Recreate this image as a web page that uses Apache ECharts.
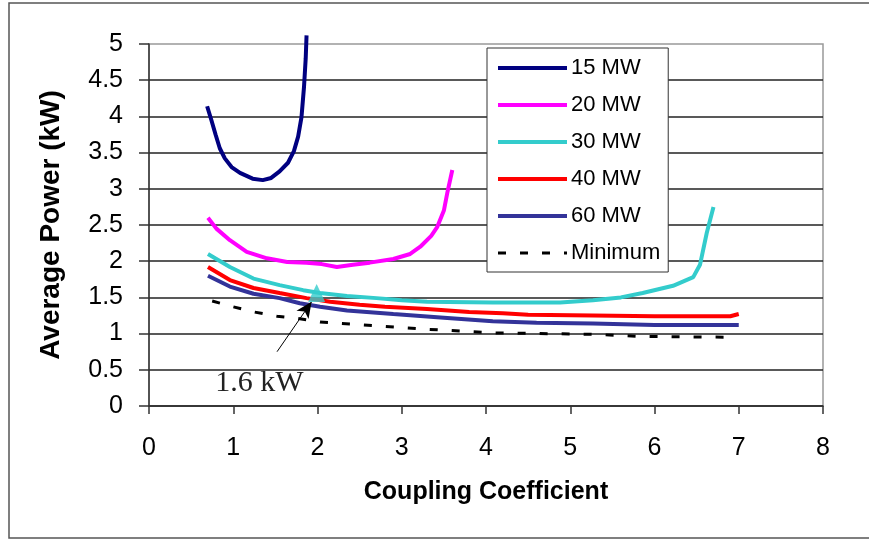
<!DOCTYPE html>
<html>
<head>
<meta charset="utf-8">
<script src="https://cdn.jsdelivr.net/npm/echarts@6/dist/echarts.min.js"></script>
<style>
  html, body { margin: 0; padding: 0; background: #fff; }
  #chart { width: 869px; height: 540px; }
</style>
</head>
<body>
<div id="chart"></div>
<script>
// [coupling coefficient, average power kW]
const mw15 = [[0.69, 4.14], [0.74, 3.95], [0.79, 3.75], [0.84, 3.56], [0.9, 3.42], [0.98, 3.3], [1.08, 3.22], [1.23, 3.14], [1.35, 3.12],
  [1.45, 3.15], [1.55, 3.24], [1.65, 3.36], [1.72, 3.52], [1.77, 3.72], [1.81, 3.99], [1.84, 4.41], [1.86, 4.8], [1.87, 5.12]];
const mw20 = [[0.7, 2.6], [0.8, 2.45], [0.96, 2.29], [1.16, 2.13], [1.4, 2.04], [1.64, 1.99], [1.87, 1.98], [2.05, 1.96],
  [2.23, 1.92], [2.42, 1.95], [2.62, 1.98], [2.9, 2.03], [3.1, 2.1], [3.22, 2.2], [3.35, 2.35], [3.42, 2.47],
  [3.5, 2.7], [3.54, 2.94], [3.6, 3.26]];
const mw30 = [[0.7, 2.1], [0.96, 1.92], [1.24, 1.76], [1.55, 1.67], [1.83, 1.6], [2.03, 1.56], [2.35, 1.52], [2.7, 1.49],
  [3.0, 1.46], [3.3, 1.44], [4.08, 1.43], [4.88, 1.43], [5.27, 1.46], [5.6, 1.5], [5.86, 1.56], [6.22, 1.66],
  [6.46, 1.78], [6.54, 1.95], [6.62, 2.39], [6.7, 2.75]];
const mw40 = [[0.7, 1.92], [0.96, 1.74], [1.24, 1.63], [1.55, 1.56], [1.87, 1.49], [2.15, 1.44], [2.5, 1.4], [2.8, 1.37],
  [3.3, 1.34], [3.8, 1.3], [4.2, 1.28], [4.5, 1.26], [5.27, 1.25], [6.0, 1.24], [6.9, 1.24], [7.0, 1.27]];
const mw60 = [[0.7, 1.8], [0.96, 1.65], [1.24, 1.55], [1.55, 1.49], [1.79, 1.42], [2.03, 1.37], [2.35, 1.32], [2.9, 1.27],
  [3.5, 1.22], [4.08, 1.17], [4.6, 1.15], [5.27, 1.14], [6.0, 1.12], [7.0, 1.12]];
const minimum = [[0.75, 1.45], [1.0, 1.37], [1.24, 1.3], [1.52, 1.24], [1.76, 1.21], [2.03, 1.16], [2.54, 1.12],
  [3.3, 1.06], [4.08, 1.01], [5.27, 0.99], [5.86, 0.96], [6.93, 0.95]];

const seriesNames = ['15 MW', '20 MW', '30 MW', '40 MW', '60 MW', 'Minimum'];
const seriesColors = ['#000080', '#ff00ff', '#33cccc', '#ff0000', '#333399', '#000000'];

// highlighted point and its callout
const optPoint = [[1.99, 1.56]];
const arrowFrom = [1.52, 0.75];
const arrowTo = [1.93, 1.44];
const calloutAt = [1.31, 0.32];
const calloutText = '1.6 kW';

const chart = echarts.init(document.getElementById('chart'));

const lineSeries = [mw15, mw20, mw30, mw40, mw60, minimum].map((d, i) => ({
  name: seriesNames[i],
  type: 'line',
  data: d,
  symbol: 'none',
  clip: false,
  color: seriesColors[i],
  lineStyle: i === 5
    ? { color: '#000', width: 3, type: [8, 14] }
    : { color: seriesColors[i], width: 4 },
  z: 3,
}));

const option = {
  backgroundColor: '#fff',
  animation: false,
  textStyle: { fontFamily: 'Liberation Sans, Arial, sans-serif' },
  grid: {
    left: 149, right: 46, top: 44, bottom: 134,
    show: true, borderColor: '#999', borderWidth: 1.5,
  },
  graphic: [{
    type: 'rect',
    shape: { x: 9, y: 3, width: 870, height: 535 },
    style: { fill: 'none', stroke: '#555', lineWidth: 1.5 },
    silent: true,
  }],
  legend: {
    data: seriesNames,
    orient: 'vertical',
    left: 487,
    top: 48,
    padding: [9, 8, 8, 9],
    itemWidth: 69,
    itemHeight: 14,
    itemGap: 15,
    backgroundColor: '#fff',
    borderColor: '#333',
    borderWidth: 1,
    itemStyle: { opacity: 0 },
    lineStyle: { width: 'inherit' },
    textStyle: { fontSize: 22, color: '#000', padding: [0, 0, 0, -1] },
  },
  xAxis: {
    type: 'value',
    min: 0, max: 8, interval: 1,
    name: 'Coupling Coefficient',
    nameLocation: 'middle',
    nameGap: 74,
    nameTextStyle: { fontSize: 25, fontWeight: 'bold', color: '#000' },
    axisLine: { show: true, lineStyle: { color: '#333', width: 1.5 } },
    axisTick: { show: true, length: 8, lineStyle: { color: '#333', width: 1.5 } },
    axisLabel: { fontSize: 25, color: '#000', margin: 30 },
    splitLine: { show: false },
  },
  yAxis: {
    type: 'value',
    min: 0, max: 5, interval: 0.5,
    name: 'Average Power (kW)',
    nameLocation: 'middle',
    nameGap: 84,
    nameTextStyle: { fontSize: 28, fontWeight: 'bold', color: '#000' },
    axisLine: { show: true, lineStyle: { color: '#333', width: 1.5 } },
    axisTick: { show: true, length: 10, lineStyle: { color: '#333', width: 1.5 } },
    axisLabel: { fontSize: 25, color: '#000', margin: 26 },
    splitLine: { show: true, showMaxLine: false, lineStyle: { color: '#222', width: 1.5 } },
  },
  series: lineSeries.concat([{
    name: 'optimum',
    type: 'scatter',
    data: optPoint,
    symbol: 'triangle',
    symbolSize: [17, 18],
    itemStyle: { color: '#33cccc' },
    z: 5,
    markLine: {
      silent: true,
      symbol: ['none', 'arrow'],
      symbolSize: [11, 16],
      label: { show: false },
      lineStyle: { color: '#000', width: 1, type: 'solid' },
      data: [[{ coord: arrowFrom }, { coord: arrowTo }]],
    },
    markPoint: {
      silent: true,
      symbol: 'circle',
      symbolSize: 1,
      itemStyle: { color: 'rgba(0,0,0,0)' },
      label: {
        show: true, position: 'inside', formatter: calloutText,
        fontFamily: 'Liberation Serif, Times New Roman, serif', fontSize: 30, color: '#222',
      },
      data: [{ coord: calloutAt }],
    },
  }]),
};

chart.setOption(option);
</script>
</body>
</html>
